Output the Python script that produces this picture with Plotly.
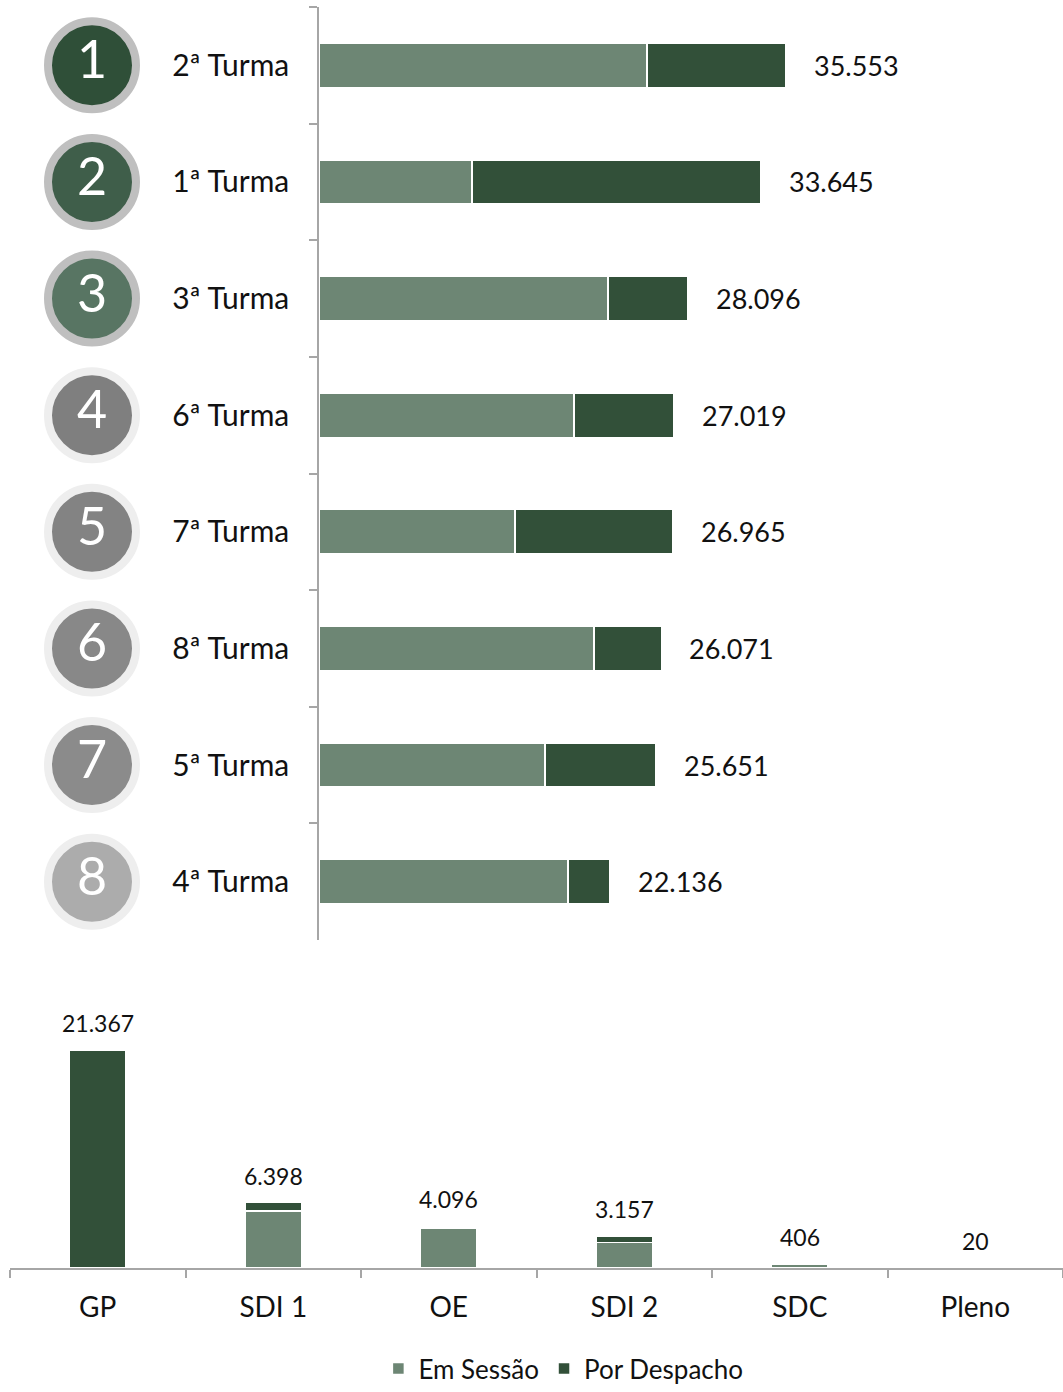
import plotly.graph_objects as go

# Ranking das Turmas
turmas = ["2ª Turma", "1ª Turma", "3ª Turma", "6ª Turma",
          "7ª Turma", "8ª Turma", "5ª Turma", "4ª Turma"]
posicoes = ["1", "2", "3", "4", "5", "6", "7", "8"]
turma_total = [35553, 33645, 28096, 27019, 26965, 26071, 25651, 22136]
turma_sessao = [24971, 11648, 22002, 19414, 14922, 20937, 17206, 18957]
turma_despacho = [t - s for t, s in zip(turma_total, turma_sessao)]

# Órgãos
orgaos = ["GP", "SDI 1", "OE", "SDI 2", "SDC", "Pleno"]
orgao_total = [21367, 6398, 4096, 3157, 406, 20]
orgao_sessao = [0, 5600, 3900, 2500, 380, 20]
orgao_despacho = [t - s for t, s in zip(orgao_total, orgao_sessao)]

# cores dos círculos
circ_fill = ["#2f4f38", "#3f5e4a", "#587563", "#7f7f7f",
             "#838383", "#888888", "#8b8b8b", "#acacac"]
circ_ring = ["#bfbfbf", "#bfbfbf", "#bfbfbf", "#eeeeee",
             "#eeeeee", "#eeeeee", "#eeeeee", "#eeeeee"]

COR_SESSAO = "#6d8674"
COR_DESPACHO = "#325039"
FONT = "Lato"
W, H = 1063, 1392


def fmt(v):
    return f"{v:,}".replace(",", ".")


def py(px):
    # pixel vertical -> fração do papel
    return 1 - px / H


fig = go.Figure()

# --- barras horizontais (turmas)
fig.add_trace(go.Bar(
    y=turmas, x=turma_sessao, orientation="h", name="Em Sessão",
    marker=dict(color=COR_SESSAO, line=dict(color="white", width=1.5)),
    xaxis="x", yaxis="y", showlegend=False, hoverinfo="x+y",
))
fig.add_trace(go.Bar(
    y=turmas, x=turma_despacho, orientation="h", name="Por Despacho",
    marker=dict(color=COR_DESPACHO, line=dict(color="white", width=1.5)),
    xaxis="x", yaxis="y", showlegend=False, hoverinfo="x+y",
))

# círculos com a posição
fig.add_trace(go.Scatter(
    x=[92] * len(turmas), y=turmas, mode="markers+text",
    text=posicoes, textposition="middle center",
    textfont=dict(family=FONT, size=52, color="white"),
    marker=dict(size=88, color=circ_fill, line=dict(color=circ_ring, width=8)),
    xaxis="x3", yaxis="y", showlegend=False, hoverinfo="skip",
))

# --- barras verticais (órgãos)
fig.add_trace(go.Bar(
    x=orgaos, y=orgao_sessao, name="Em Sessão", width=0.32,
    marker=dict(color=COR_SESSAO, line=dict(color="white", width=1.5)),
    xaxis="x2", yaxis="y2",
))
fig.add_trace(go.Bar(
    x=orgaos, y=orgao_despacho, name="Por Despacho", width=0.32,
    marker=dict(color=COR_DESPACHO, line=dict(color="white", width=1.5)),
    xaxis="x2", yaxis="y2",
))

annotations = []
for t, v in zip(turmas, turma_total):
    annotations.append(dict(
        x=v, y=t, xref="x", yref="y", text=fmt(v), showarrow=False,
        xanchor="left", xshift=26,
        font=dict(family=FONT, size=27, color="#111111"),
    ))
for o, v in zip(orgaos, orgao_total):
    annotations.append(dict(
        x=o, y=v, xref="x2", yref="y2", text=fmt(v), showarrow=False,
        yanchor="middle", yshift=27,
        font=dict(family=FONT, size=23, color="#111111"),
    ))

x0 = 319 / W
fig.update_layout(
    width=W, height=H,
    margin=dict(l=0, r=0, t=0, b=0),
    plot_bgcolor="white", paper_bgcolor="white",
    barmode="stack",
    bargap=0.62,
    font=dict(family=FONT, color="#111111"),
    xaxis=dict(domain=[x0, 1], range=[0, (W - 319) / 0.013135],
               visible=False, anchor="y"),
    yaxis=dict(domain=[py(940), py(7)], anchor="x",
               categoryorder="array", categoryarray=turmas,
               range=[7.5, -0.5],
               showline=True, linecolor="#a6a6a6", linewidth=1.5,
               ticks="outside", tickson="boundaries", ticklen=8,
               tickcolor="#a6a6a6", tickwidth=1.5,
               ticklabelstandoff=22,
               tickfont=dict(family=FONT, size=30, color="#111111")),
    xaxis3=dict(domain=[0, x0], range=[0, 319], visible=False,
                anchor="y", fixedrange=True),
    xaxis2=dict(domain=[10 / W, 1], anchor="y2",
                showline=True, linecolor="#a6a6a6", linewidth=1.5,
                ticks="outside", tickson="boundaries", ticklen=8,
                tickcolor="#a6a6a6", tickwidth=1.5,
                ticklabelstandoff=14,
                tickfont=dict(family=FONT, size=28, color="#111111")),
    yaxis2=dict(domain=[py(1268), py(1000)], anchor="x2",
                range=[0, 26268], visible=False),
    legend=dict(orientation="h", x=0.53, xanchor="center",
                y=0, yanchor="bottom",
                font=dict(family=FONT, size=26, color="#111111"),
                traceorder="normal"),
    annotations=annotations,
)

fig.write_html("out.html", config={"displayModeBar": False},
               post_script="document.body.style.margin='0';")
